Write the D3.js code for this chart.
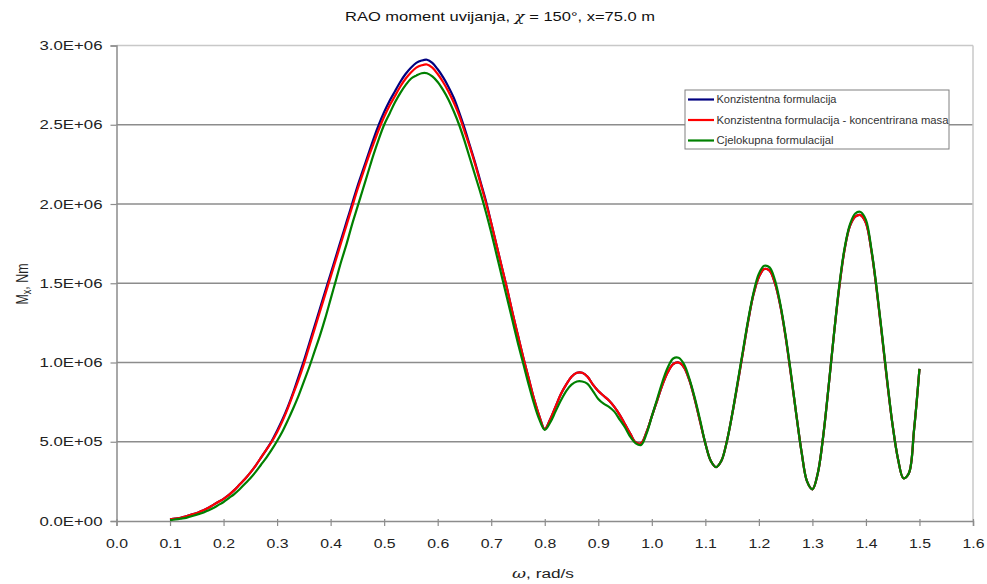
<!DOCTYPE html>
<html>
<head>
<meta charset="utf-8">
<script src="https://cdn.jsdelivr.net/npm/d3@7"></script>
<style>
  body { margin: 0; background: #fff; }
  svg { display: block; font-family: Arial, "Liberation Sans", sans-serif; }
</style>
</head>
<body>
<svg id="chart" width="987" height="584"></svg>
<script>
// ---- DATA (values in units of 1e6 Nm) ----
const omega = d3.range(10, 151).map(i => i / 100); // 0.10 .. 1.50 rad/s

const blueVals = [
  0.01, 0.015, 0.02, 0.03, 0.04, 0.05, 0.065, 0.08, 0.10, 0.12,
  0.14, 0.165, 0.195, 0.23, 0.265, 0.305, 0.35, 0.40, 0.45, 0.505,
  0.57, 0.64, 0.72, 0.81, 0.91, 1.01, 1.12, 1.23, 1.34, 1.45,
  1.56, 1.67, 1.78, 1.89, 2.00, 2.11, 2.21, 2.31, 2.41, 2.50,
  2.58, 2.65, 2.71, 2.77, 2.82, 2.86, 2.89, 2.905, 2.91, 2.89,
  2.85, 2.80, 2.74, 2.67, 2.58, 2.48, 2.37, 2.26, 2.14, 2.02,
  1.88, 1.74, 1.60, 1.46, 1.31, 1.17, 1.03, 0.90, 0.77, 0.66,
  0.58, 0.64, 0.72, 0.80, 0.86, 0.91, 0.935, 0.935, 0.91, 0.86,
  0.82, 0.79, 0.76, 0.72, 0.67, 0.61, 0.55, 0.495, 0.49, 0.56,
  0.66, 0.76, 0.86, 0.94, 0.99, 1.00, 0.97, 0.89, 0.77, 0.63,
  0.49, 0.38, 0.34, 0.38, 0.50, 0.67, 0.86, 1.06, 1.26, 1.43,
  1.54, 1.59, 1.58, 1.50, 1.36, 1.16, 0.92, 0.67, 0.43, 0.25,
  0.20, 0.30, 0.53, 0.84, 1.17, 1.47, 1.71, 1.86, 1.92, 1.93,
  1.88, 1.71, 1.46, 1.17, 0.87, 0.60, 0.39, 0.27, 0.30, 0.58,
  0.96
];

const redVals = [
  0.01, 0.015, 0.02, 0.03, 0.04, 0.05, 0.065, 0.08, 0.10, 0.12,
  0.14, 0.165, 0.195, 0.23, 0.265, 0.305, 0.35, 0.40, 0.45, 0.50,
  0.56, 0.63, 0.71, 0.80, 0.89, 0.99, 1.10, 1.21, 1.32, 1.43,
  1.54, 1.65, 1.76, 1.87, 1.98, 2.09, 2.19, 2.29, 2.38, 2.47,
  2.55, 2.62, 2.68, 2.74, 2.79, 2.83, 2.86, 2.875, 2.88, 2.86,
  2.82, 2.77, 2.71, 2.64, 2.56, 2.46, 2.36, 2.25, 2.13, 2.01,
  1.88, 1.74, 1.60, 1.46, 1.31, 1.17, 1.03, 0.90, 0.77, 0.66,
  0.58, 0.64, 0.72, 0.80, 0.86, 0.91, 0.935, 0.935, 0.91, 0.86,
  0.82, 0.79, 0.76, 0.72, 0.67, 0.61, 0.55, 0.495, 0.49, 0.56,
  0.66, 0.76, 0.86, 0.94, 0.99, 1.00, 0.97, 0.89, 0.77, 0.63,
  0.49, 0.38, 0.34, 0.38, 0.50, 0.67, 0.86, 1.06, 1.26, 1.43,
  1.54, 1.59, 1.58, 1.50, 1.36, 1.16, 0.92, 0.67, 0.43, 0.25,
  0.20, 0.30, 0.53, 0.84, 1.17, 1.47, 1.71, 1.86, 1.92, 1.93,
  1.88, 1.71, 1.46, 1.17, 0.87, 0.60, 0.39, 0.27, 0.30, 0.58,
  0.96
];

const greenVals = [
  0.005, 0.01, 0.015, 0.02, 0.03, 0.04, 0.05, 0.065, 0.08, 0.10,
  0.12, 0.145, 0.17, 0.20, 0.235, 0.27, 0.31, 0.355, 0.40, 0.45,
  0.505, 0.565, 0.635, 0.71, 0.79, 0.88, 0.97, 1.07, 1.17, 1.28,
  1.40, 1.52, 1.64, 1.75, 1.87, 1.98, 2.09, 2.20, 2.31, 2.41,
  2.50, 2.57, 2.64, 2.70, 2.75, 2.79, 2.81, 2.825, 2.825, 2.805,
  2.77, 2.72, 2.66, 2.585, 2.50, 2.40, 2.29, 2.18, 2.07, 1.95,
  1.82, 1.68, 1.54, 1.40, 1.26, 1.12, 0.99, 0.86, 0.74, 0.64,
  0.575, 0.62, 0.69, 0.76, 0.82, 0.86, 0.88, 0.88, 0.865, 0.82,
  0.77, 0.74, 0.72, 0.69, 0.64, 0.59, 0.53, 0.49, 0.48, 0.55,
  0.66, 0.77, 0.88, 0.97, 1.025, 1.03, 0.99, 0.90, 0.78, 0.64,
  0.49, 0.38, 0.34, 0.38, 0.50, 0.67, 0.87, 1.07, 1.27, 1.44,
  1.56, 1.61, 1.60, 1.52, 1.37, 1.17, 0.93, 0.67, 0.43, 0.25,
  0.20, 0.30, 0.53, 0.84, 1.17, 1.48, 1.72, 1.87, 1.94, 1.95,
  1.90, 1.72, 1.47, 1.18, 0.88, 0.60, 0.39, 0.27, 0.30, 0.58,
  0.96
];

const seriesNames = ["Konzistentna formulacija", "Konzistentna formulacija - koncentrirana masa", "Cjelokupna formulacijal"];
const seriesColors = ["#000080", "#ff0000", "#008000"];
const yTicks = [0, 0.5e6, 1.0e6, 1.5e6, 2.0e6, 2.5e6, 3.0e6];
const xTicks = d3.range(0, 17).map(i => i / 10);

// ---- LAYOUT ----
const svg = d3.select("#chart");
const pL = 116.5, pR = 973, pT = 45.5, pB = 521;
const x = d3.scaleLinear().domain([0, 1.6]).range([pL, pR]);
const y = d3.scaleLinear().domain([0, 3e6]).range([pB, pT]);
const FONT = "Arial, 'Liberation Sans', sans-serif";

// gridlines
svg.append("g").selectAll("line").data(yTicks.filter(v => v > 0 && v < 3e6)).join("line")
  .attr("x1", pL).attr("x2", pR)
  .attr("y1", d => y(d)).attr("y2", d => y(d))
  .attr("stroke", "#8c8c8c").attr("stroke-width", 1.6);

// frame top/right
svg.append("line").attr("x1", pL).attr("x2", pR).attr("y1", pT).attr("y2", pT)
  .attr("stroke", "#c8c8c8").attr("stroke-width", 1.5);
svg.append("line").attr("x1", pR).attr("x2", pR).attr("y1", pT).attr("y2", pB)
  .attr("stroke", "#c8c8c8").attr("stroke-width", 1.5);

// axes
const fmtY = d => {
  if (d === 0) return "0.0E+00";
  const e = Math.floor(Math.log10(d));
  const m = d / Math.pow(10, e);
  return m.toFixed(1) + "E+" + String(e).padStart(2, "0");
};
const yAxis = d3.axisLeft(y).tickValues(yTicks).tickFormat(fmtY).tickSize(6).tickPadding(8);
const gy = svg.append("g").attr("transform", `translate(${pL},0)`).call(yAxis);
gy.select(".domain").attr("stroke", "#8c8c8c").attr("stroke-width", 1.5);
gy.selectAll(".tick line").attr("stroke", "#8c8c8c").attr("stroke-width", 1.2);
gy.selectAll(".tick text").attr("font-size", 12.5).attr("fill", "#222").attr("font-family", FONT)
  .attr("textLength", 63).attr("lengthAdjust", "spacingAndGlyphs");

const xAxis = d3.axisBottom(x).tickValues(xTicks).tickFormat(d3.format(".1f")).tickSize(5).tickPadding(13);
const gx = svg.append("g").attr("transform", `translate(0,${pB})`).call(xAxis);
gx.select(".domain").attr("stroke", "#8c8c8c").attr("stroke-width", 1.5);
gx.selectAll(".tick line").attr("stroke", "#8c8c8c").attr("stroke-width", 1.2).attr("y1", -2);
gx.selectAll(".tick text").attr("font-size", 12.5).attr("fill", "#222").attr("font-family", FONT)
  .attr("textLength", 22).attr("lengthAdjust", "spacingAndGlyphs");

// lines
const allVals = [blueVals, redVals, greenVals];
const line = d3.line().x(d => x(d[0])).y(d => y(d[1] * 1e6)).curve(d3.curveCatmullRom.alpha(0.5));
allVals.forEach((vals, i) => {
  svg.append("path")
    .datum(omega.map((w, j) => [w, vals[j]]))
    .attr("d", line)
    .attr("fill", "none")
    .attr("stroke", seriesColors[i])
    .attr("stroke-width", 2.2)
    .attr("stroke-linejoin", "round");
});

// title
const title = svg.append("text").attr("x", 500).attr("y", 20.5).attr("text-anchor", "middle")
  .attr("font-size", 13.5).attr("fill", "#111")
  .attr("textLength", 310).attr("lengthAdjust", "spacingAndGlyphs");
title.append("tspan").text("RAO moment uvijanja, ");
title.append("tspan").attr("font-style", "italic").attr("font-family", "'DejaVu Serif', serif").text("χ");
title.append("tspan").text(" = 150°, x=75.0 m");

// x axis title
const xt = svg.append("text").attr("x", 543).attr("y", 578).attr("text-anchor", "middle")
  .attr("font-size", 12.5).attr("fill", "#222")
  .attr("textLength", 62).attr("lengthAdjust", "spacingAndGlyphs");
xt.append("tspan").attr("font-style", "italic").attr("font-family", "'DejaVu Serif', serif").text("ω");
xt.append("tspan").text(", rad/s");

// y axis title
const yt = svg.append("text").attr("transform", "translate(28,284) rotate(-90) scale(1,1.35)").attr("text-anchor", "middle")
  .attr("font-size", 12.5).attr("fill", "#222");
yt.append("tspan").text("M");
yt.append("tspan").attr("font-size", 9).attr("dy", 2).text("x");
yt.append("tspan").attr("dy", -2).text(", Nm");

// legend
const legendWidths = [120, 232, 117];
const lg = svg.append("g");
lg.append("rect").attr("x", 685).attr("y", 90).attr("width", 264).attr("height", 59)
  .attr("fill", "#fff").attr("stroke", "#808080").attr("stroke-width", 1);
seriesNames.forEach((name, i) => {
  const cy = 99.5 + i * 20.5;
  lg.append("line").attr("x1", 688).attr("x2", 714).attr("y1", cy).attr("y2", cy)
    .attr("stroke", seriesColors[i]).attr("stroke-width", 2.2);
  lg.append("text").attr("x", 716.5).attr("y", cy + 3.8).attr("font-size", 10.5).attr("fill", "#333")
    .attr("textLength", legendWidths[i]).attr("lengthAdjust", "spacingAndGlyphs").text(name);
});
</script>
</body>
</html>
